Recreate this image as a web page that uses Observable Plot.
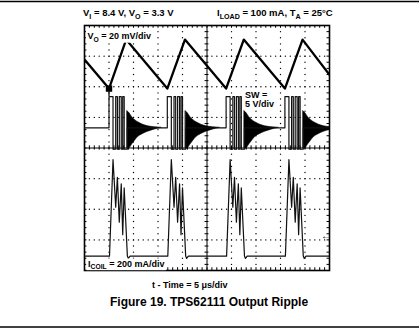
<!DOCTYPE html>
<html><head><meta charset="utf-8">
<script src="https://cdn.jsdelivr.net/npm/d3@7"></script>
<script src="https://cdn.jsdelivr.net/npm/@observablehq/plot@0.6"></script>
<style>
html,body{margin:0;padding:0;background:#fff;}
#chart{width:419px;height:332px;overflow:hidden;}
</style></head><body><div id="chart"></div>
<script>
// ---- Data ----
// Output voltage ripple (AC), 20 mV/div
const voTime = [-25, -20.0, -16.5, -8.1, -4.5, 3.9, 7.5, 15.9, 19.5, 25];   // µs
const voRipple = [19, 0, 32, 0, 32, 0, 32, 0, 32, 9];                        // mV above trough
// Switching bursts
const burstStart = [-20.0, -8.1, 3.9, 15.9];                                  // µs
// SW node, 5 V/div
const swIdle = 3.3;                                                            // V
const swEdgeTime = [0, 0.82, 1.37, 1.71, 2.1, 2.5, 2.8, 3.1, 3.75];           // µs after burst start
const swEdgeLevel = [8.4, -0.2, 8.4, -0.2, 8.4, -0.2, 8.4, -0.2, 3.3];         // V
const ringTime = [0, 0.3, 1.0, 2.2, 3.2, 4.2, 5.5, 7.0];                       // µs after ringing starts
const ringUpper = [6.0, 5.8, 5.0, 4.2, 3.8, 3.55, 3.4, 3.3];                   // V
const ringLower = [-0.1, -0.1, 0.6, 1.8, 2.3, 2.65, 3.0, 3.3];                 // V
// Coil current, 200 mA/div
const coilTime = [0, 0.1, 0.82, 1.37, 1.71, 2.1, 2.5, 2.8, 3.1, 3.75, 3.95, 4.3]; // µs after burst start
const coilCurrent = [0, 0, 630, 320, 515, 222, 472, 140, 445, 0, -15, 0];          // mA
// Scale factors and trace reference positions (divisions)
const mvPerDiv = 20, vPerDiv = 5, maPerDiv = 200;
const voRef = 1.94, swRef = 0, coilRef = -3.53, markerRef = -2.86;

// ---- Build tables ----
const vo = voTime.map((t, i) => ({t, y: voRef + voRipple[i] / mvPerDiv}));

const sw = [{t: -25, y: swRef + swIdle / vPerDiv}];
burstStart.forEach(b => {
  let prev = swIdle;
  sw.push({t: b, y: swRef + prev / vPerDiv});
  swEdgeTime.forEach((dt, i) => {
    sw.push({t: b + dt, y: swRef + prev / vPerDiv});
    sw.push({t: b + dt, y: swRef + swEdgeLevel[i] / vPerDiv});
    prev = swEdgeLevel[i];
  });
});
sw.push({t: 25, y: swRef + swIdle / vPerDiv});

const ringStart = swEdgeTime[swEdgeTime.length - 1];
const ring = burstStart.flatMap((b, k) => ringTime.map((dt, j) => ({
  t: b + ringStart + dt, y1: swRef + ringLower[j] / vPerDiv, y2: swRef + ringUpper[j] / vPerDiv, k
})));

const coil = [{t: -25, y: coilRef}];
burstStart.forEach(b => coilTime.forEach((dt, j) => coil.push({t: b + dt, y: coilRef + coilCurrent[j] / maPerDiv})));
coil.push({t: 25, y: coilRef});

// Graticule
const minorX = d3.range(-25, 25.001, 1);
const minorY = d3.range(-4, 4.001, 0.2).map(v => +v.toFixed(2));
const majorX = [-20, -15, -10, -5, 5, 10, 15, 20];
const majorY = [-3, -2, -1, 1, 2, 3];
const gridDots = [
  ...majorX.flatMap(x => minorY.filter(y => Math.abs(y) < 3.99).map(y => ({x, y}))),
  ...majorY.flatMap(y => minorX.filter(x => Math.abs(x) < 24.99).map(x => ({x, y})))
];

const plot = Plot.plot({
  width: 419, height: 332,
  marginLeft: 84, marginRight: 90, marginTop: 25, marginBottom: 62,
  x: {domain: [-25, 25], axis: null},
  y: {domain: [-4, 4], axis: null},
  style: {background: "#fff", fontFamily: "'Liberation Sans', Arial, sans-serif", overflow: "visible"},
  marks: [
    Plot.dot(gridDots, {x: "x", y: "y", r: 0.7, fill: "#000", stroke: null}),
    Plot.ruleX([0], {stroke: "#000", strokeWidth: 1}),
    Plot.ruleY([0], {stroke: "#000", strokeWidth: 1}),
    Plot.ruleX(minorX, {x: d => d, y1: () => -0.07, y2: () => 0.07, stroke: "#000", strokeWidth: 1}),
    Plot.ruleY(minorY, {y: d => d, x1: () => -0.4, x2: () => 0.4, stroke: "#000", strokeWidth: 1}),
    Plot.ruleX(minorX, {x: d => d, y1: () => 4, y2: () => 3.91, stroke: "#000", strokeWidth: 1}),
    Plot.ruleX(minorX, {x: d => d, y1: () => -4, y2: () => -3.91, stroke: "#000", strokeWidth: 1}),
    Plot.ruleY(minorY, {y: d => d, x1: () => -25, x2: () => -24.5, stroke: "#000", strokeWidth: 1}),
    Plot.ruleY(minorY, {y: d => d, x1: () => 25, x2: () => 24.5, stroke: "#000", strokeWidth: 1}),
    Plot.frame({stroke: "#000", strokeWidth: 1.6}),
    Plot.areaY(ring, {x: "t", y1: "y1", y2: "y2", z: "k", fill: "#000", stroke: "#000", strokeWidth: 0.6, curve: "monotone-x", clip: true}),
    Plot.line(sw, {x: "t", y: "y", stroke: "#111", strokeWidth: 1.2, clip: true}),
    Plot.line(coil, {x: "t", y: "y", stroke: "#111", strokeWidth: 1.2, strokeLinejoin: "round", clip: true}),
    Plot.ruleX([burstStart[0]], {y1: () => voRef, y2: () => swRef + swEdgeLevel[0] / vPerDiv, stroke: "#000", strokeWidth: 1.2}),
    Plot.line(vo, {x: "t", y: "y", stroke: "#000", strokeWidth: 2.3, strokeLinejoin: "round", clip: true}),
    Plot.dot([burstStart[0]], {x: d => d, y: () => voRef, symbol: "square", r: 3.6, fill: "#000", stroke: null}),
    Plot.text(["←"], {x: () => 24.3, y: () => markerRef, text: d => d, fontSize: 10, fontWeight: "bold", fill: "#000"})
  ]
});
document.getElementById("chart").appendChild(plot);

// ---- Text and rules ----
const svg = d3.select(plot);
const g = svg.append("g").attr("text-anchor", "start");
function rich(x, y, parts, size, box) {
  const t = g.append("text").attr("x", x).attr("y", y).attr("font-size", size)
    .attr("font-weight", "bold").attr("fill", "#000").attr("text-anchor", "start")
    .attr("font-family", "'Liberation Sans', Arial, sans-serif");
  let shifted = false;
  parts.forEach(p => {
    const sub = Array.isArray(p);
    const ts = t.append("tspan").text(sub ? p[0] : p);
    if (sub) {
      ts.attr("font-size", size * 0.75);
      if (!shifted) { ts.attr("dy", size * 0.3); shifted = true; }
    } else if (shifted) { ts.attr("dy", -size * 0.3); shifted = false; }
  });
  if (box) {
    const bb = t.node().getBBox();
    g.insert("rect", () => t.node()).attr("x", bb.x - 1.5).attr("y", bb.y)
      .attr("width", bb.width + 3).attr("height", bb.height).attr("fill", "#fff");
  }
  return t;
}
g.append("line").attr("x1", 0).attr("x2", 419).attr("y1", 1.5).attr("y2", 1.5).attr("stroke", "#000").attr("stroke-width", 1.6);
g.append("line").attr("x1", 0).attr("x2", 419).attr("y1", 327).attr("y2", 327).attr("stroke", "#000").attr("stroke-width", 1.6);
rich(83, 16, ["V", ["I"], " = 8.4 V, V", ["O"], " = 3.3 V"], 9.5);
rich(217, 16, ["I", ["LOAD"], " = 100 mA, T", ["A"], " = 25°C"], 9.5);
rich(87.5, 39, ["V", ["O"], " = 20 mV/div"], 9, true);
rich(245, 97.5, ["SW ="], 9, true);
rich(245, 107, ["5 V/div"], 9, true);
rich(88, 266.5, ["I", ["COIL"], " = 200 mA/div"], 9, true);
rich(152, 287.5, ["t - Time = 5 μs/div"], 9);
rich(110, 306, ["Figure 19. TPS62111 Output Ripple"], 12);
</script></body></html>
